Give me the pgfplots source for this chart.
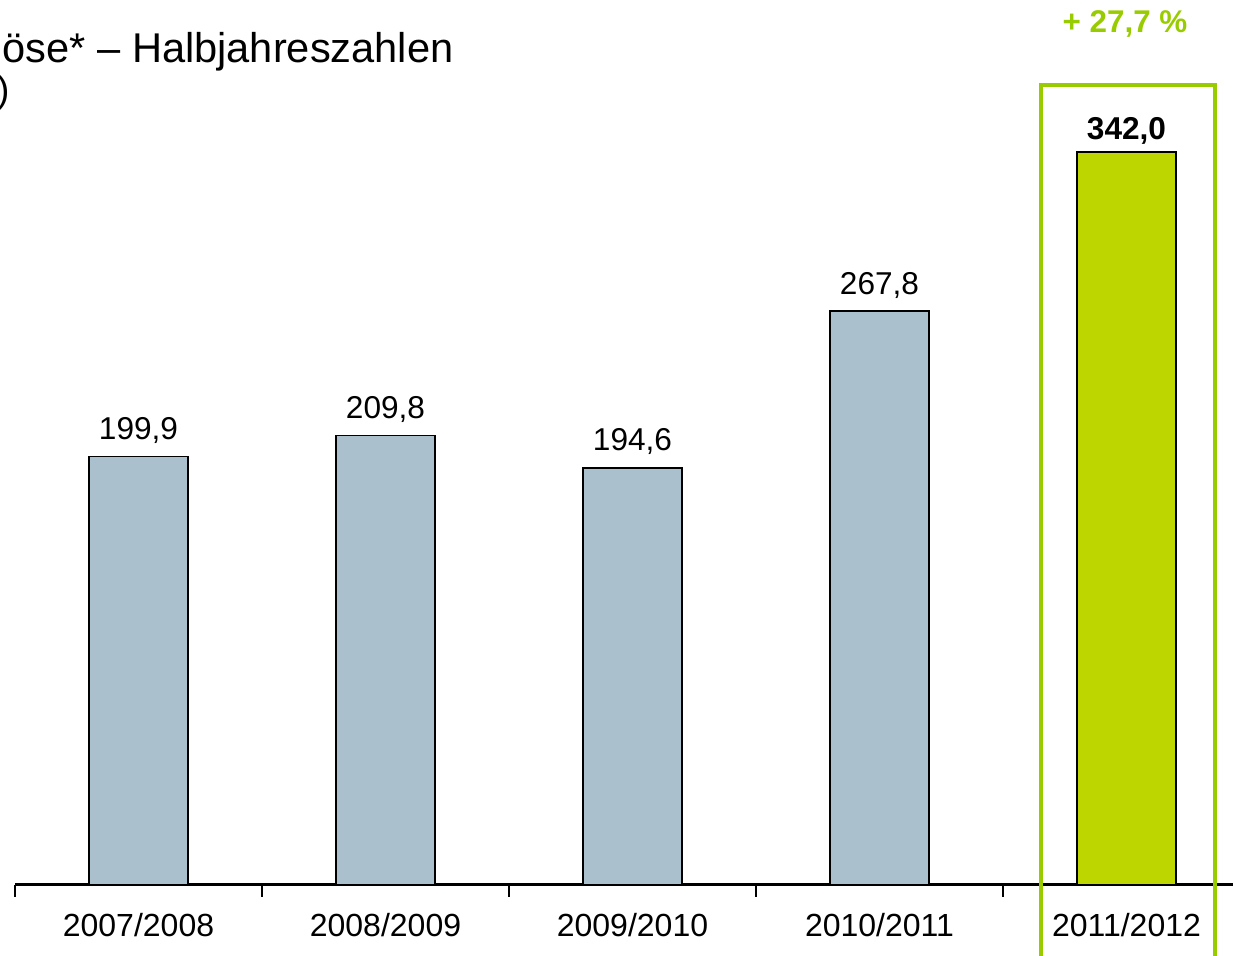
\documentclass[border=0pt]{standalone}
\usepackage{fontspec}
\setmainfont{Liberation Sans}
\usepackage{pgfplots}
\pgfplotsset{compat=1.18}
\definecolor{barblue}{RGB}{170,193,205}
\definecolor{bargreen}{RGB}{189,214,0}
\definecolor{boxgreen}{RGB}{153,204,0}
\begin{document}
\begin{tikzpicture}
\begin{axis}[
  at={(7.5pt,35.5pt)}, anchor=south west,
  scale only axis, width=617.5pt, height=442.5pt,
  xmin=-0.5, xmax=4.5, ymin=0, ymax=413,
  axis x line=bottom, axis y line=none,
  x axis line style={-, line width=1.5pt},
  xtick={0,1,2,3,4},
  xticklabels={2007/2008,2008/2009,2009/2010,2010/2011,2011/2012},
  major tick length=0pt,
  xticklabel style={anchor=base, yshift=-26pt, font=\fontsize{16}{19}\selectfont},
  extra x ticks={-0.5,0.5,1.5,2.5,3.5,4.5},
  extra x tick labels={},
  extra x tick style={major tick length=6pt, tick align=outside, tick style={line width=1pt, black}},
  ybar, bar width=49.5pt, bar shift=0pt,
  clip=false,
  /pgf/number format/.cd, fixed, fixed zerofill, precision=1, use comma, assume math mode=true,
]
\addplot[fill=barblue, draw=black, line width=0.7pt,
  nodes near coords,
  every node near coord/.style={anchor=base, yshift=8.5pt, font=\fontsize{15.8}{18}\selectfont, black}]
  coordinates {(0,199.9) (1,209.8) (2,194.6) (3,267.8)};
\addplot[fill=bargreen, draw=black, line width=0.7pt,
  nodes near coords,
  every node near coord/.style={anchor=base, yshift=6.5pt, font=\bfseries\fontsize{15.8}{18}\selectfont, black}]
  coordinates {(4,342.0)};
\end{axis}
% highlight box
\draw[boxgreen, line width=2pt] (520.5pt,-5pt) -- (520.5pt,435.5pt) -- (607.5pt,435.5pt) -- (607.5pt,-5pt);
\node[anchor=base, text=boxgreen, font=\bfseries\fontsize{15.7}{18}\selectfont, inner sep=0pt] at (562.5pt,461.5pt) {+ 27,7 \%};
% title (cropped at left as in the reference)
\node[anchor=base east, inner sep=0pt, font=\fontsize{20.8}{24}\selectfont] at (227pt,446.5pt) {Umsatzerlöse* – Halbjahreszahlen};
\node[anchor=base east, inner sep=0pt, font=\fontsize{18.5}{22}\selectfont] at (5pt,426.5pt) {(in Mio. €)};
\pgfresetboundingbox
\path[use as bounding box] (0pt,0pt) rectangle (616.5pt,478pt);
\end{tikzpicture}
\end{document}
